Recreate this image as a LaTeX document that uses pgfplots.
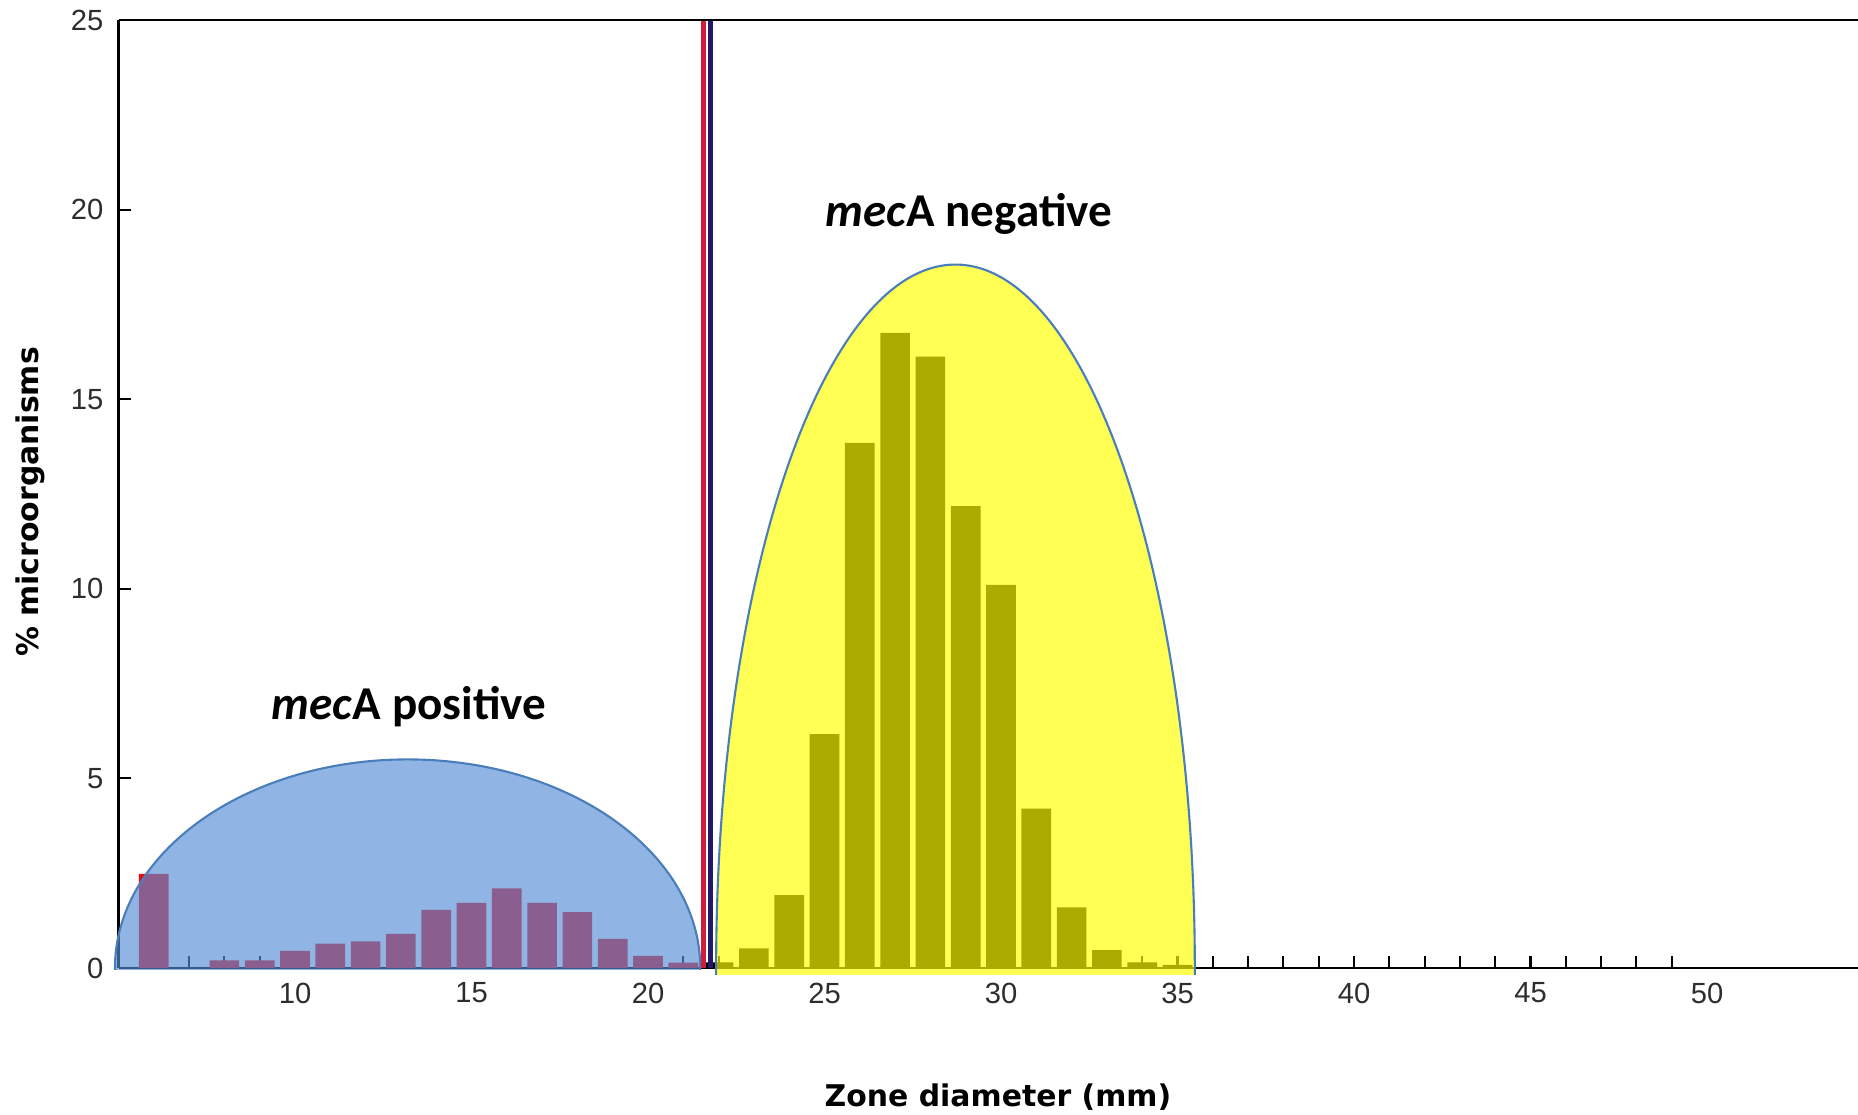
\documentclass[border=0pt]{standalone}
\usepackage{fontspec}
\setmainfont{Liberation Sans}
\newfontfamily\labfont{DejaVu Sans}
\newfontfamily\annfont{Carlito}
\usepackage{pgfplots}
\pgfplotsset{compat=1.18}
\definecolor{barred}{RGB}{239,8,13}
\definecolor{blueov}{RGB}{85,142,213}
\definecolor{yellowov}{RGB}{255,255,0}
\definecolor{edgeblue}{RGB}{74,126,187}
\definecolor{cutred}{RGB}{205,30,60}
\definecolor{cutblue}{RGB}{35,25,105}
\definecolor{ticktext}{RGB}{45,45,45}

% % of isolates per zone diameter (mm)
\pgfplotstableread{
x  y
6  2.48
8  0.20
9  0.20
10 0.45
11 0.64
12 0.70
13 0.90
14 1.53
15 1.72
16 2.10
17 1.72
18 1.47
19 0.77
20 0.32
21 0.14
}\posdata
\pgfplotstableread{
x  y
22 0.15
23 0.52
24 1.92
25 6.17
26 13.85
27 16.75
28 16.12
29 12.18
30 10.10
31 4.20
32 1.60
33 0.47
34 0.15
35 0.08
}\negdata

\begin{document}
\begin{tikzpicture}
\useasboundingbox (-1.185cm,-1.47cm) rectangle (17.395cm,9.68cm);
\begin{axis}[
    at={(0,0)}, anchor=south west,
    scale only axis,
    width=17.396cm, height=9.48cm,
    xmin=5, xmax=54.28, ymin=0, ymax=25,
    axis lines=left,
    axis line style={-, line width=0.7pt, black},
    clip=false,
    tick align=inside,
    major tick length=1.2mm,
    tick style={black, line width=0.6pt},
    xtick={6,...,49},
    xticklabels={,,,,10,,,,,15,,,,,20,,,,,25,,,,,30,,,,,35,,,,,40,,,,,45,,,,},
    extra x ticks={50},
    extra x tick labels={50},
    extra x tick style={major tick length=0pt},
    ytick={0,5,...,25},
    /pgf/number format/assume math mode=true,
    tick label style={font=\fontsize{8.3}{10}\selectfont, text=ticktext},
    xticklabel style={anchor=center, inner sep=0pt, yshift=-2.5mm},
    yticklabel style={anchor=east, inner sep=0pt, xshift=-1.45mm},
]
\addplot[ybar, bar width=0.84, bar shift=0pt, draw=none, fill=barred] table[x=x, y=y] {\posdata};
\addplot[ybar, bar width=0.84, bar shift=0pt, draw=none, fill=black] table[x=x, y=y] {\negdata};

\begin{scope}
  \clip (axis cs:4,-0.04) rectangle (axis cs:21.5,10);
  \fill[blueov, fill opacity=0.65] (axis cs:13.19,0) ellipse [x radius=8.29, y radius=5.5];
  \draw[edgeblue, line width=0.6pt] (axis cs:13.19,0) ellipse [x radius=8.29, y radius=5.5];
\end{scope}
\begin{scope}
  \clip (axis cs:21.8,-0.18) rectangle (axis cs:36,20);
  \fill[yellowov, fill opacity=0.67] (axis cs:28.71,0) ellipse [x radius=6.78, y radius=18.55];
  \draw[edgeblue, line width=0.6pt] (axis cs:28.71,0) ellipse [x radius=6.78, y radius=18.55];
\end{scope}

\addplot[cutred, line width=0.5mm] coordinates {(21.57,0) (21.57,25)};
\addplot[cutblue, line width=0.5mm] coordinates {(21.78,0) (21.78,25)};

\draw[black, line width=0.7pt] (rel axis cs:0,1) -- (rel axis cs:1,1);

\node[font=\annfont\bfseries\fontsize{13.4}{16}\selectfont] at (axis cs:13.23,6.88) {\textit{mec}A positive};
\node[font=\annfont\bfseries\fontsize{13.4}{16}\selectfont] at (axis cs:29.09,19.88) {\textit{mec}A negative};
\end{axis}
\node[rotate=90, font=\labfont\bfseries\fontsize{8.5}{10}\selectfont] at (-0.885cm,4.66cm) {\% microorganisms};
\node[font=\labfont\bfseries\fontsize{8.5}{10}\selectfont] at (8.795cm,-1.29cm) {Zone diameter (mm)};
\end{tikzpicture}
\end{document}
